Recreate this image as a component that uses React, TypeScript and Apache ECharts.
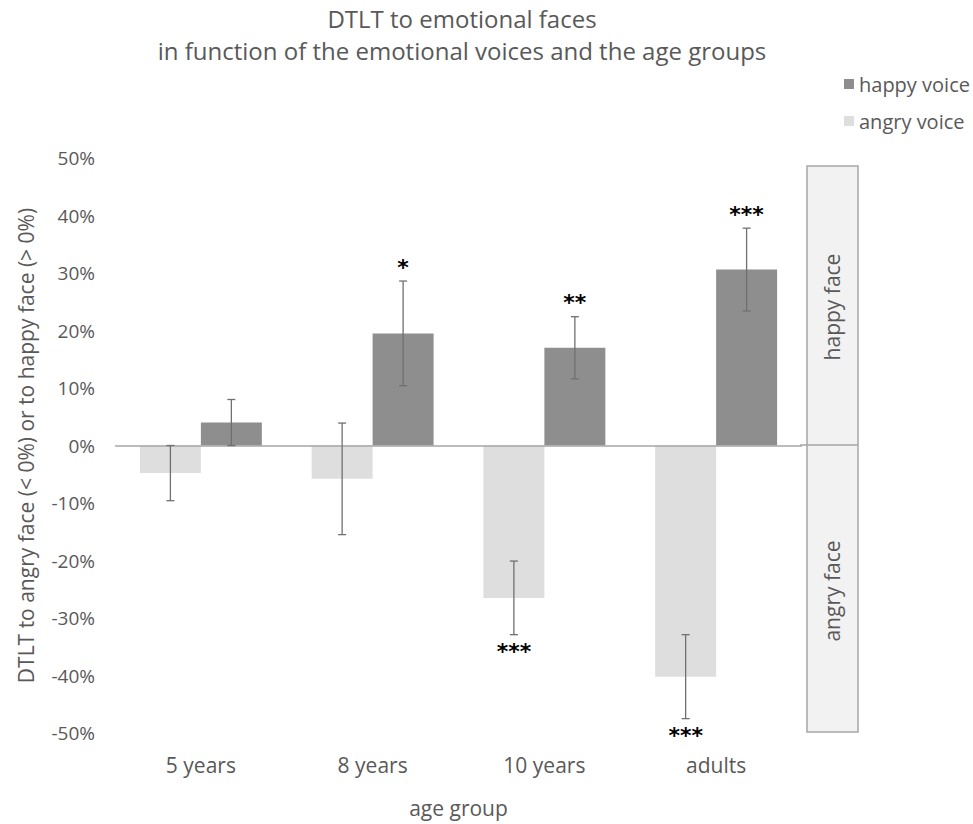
import React, { useEffect, useRef } from "react";
import * as echarts from "echarts";

const categories = ["5 years", "8 years", "10 years", "adults"];
const happyVoice = [4.0, 19.5, 17.0, 30.6];
const happyError = [4.0, 9.1, 5.4, 7.2];
const angryVoice = [-4.8, -5.8, -26.5, -40.2];
const angryError = [4.8, 9.7, 6.4, 7.3];
const happySig = ["", "*", "**", "***"];
const angrySig = ["", "", "***", "***"];
const yMin = -50;
const yMax = 50;
const yInterval = 10;

const FONT = "'Open Sans', sans-serif";
const TEXT = "#595959";
const BAR_RATIO = 0.355;

function errorSeries(name: string, values: number[], errors: number[], sigs: string[], side: number) {
  return {
    type: "custom",
    name,
    silent: true,
    z: 5,
    encode: { x: 0, y: 1 },
    data: values.map((v, i) => [i, v, errors[i]]),
    renderItem: (params: any, api: any) => {
      const i = api.value(0);
      const v = api.value(1);
      const e = api.value(2);
      const catW = api.size([1, 0])[0];
      const bw = catW * BAR_RATIO;
      const cx = api.coord([i, v])[0];
      const x = cx + (side * bw) / 2;
      const yTop = api.coord([i, v + e])[1];
      const yBot = api.coord([i, v - e])[1];
      const cap = 4;
      const style = { stroke: "#707070", lineWidth: 1.3 };
      const children: any[] = [
        { type: "line", shape: { x1: x, y1: yTop, x2: x, y2: yBot }, style },
        { type: "line", shape: { x1: x - cap, y1: yTop, x2: x + cap, y2: yTop }, style },
        { type: "line", shape: { x1: x - cap, y1: yBot, x2: x + cap, y2: yBot }, style },
      ];
      const sig = sigs[params.dataIndex];
      if (sig) {
        const up = v > 0;
        children.push({
          type: "text",
          style: {
            text: sig,
            x,
            y: up ? yTop - 14 : yBot + 17,
            align: "center",
            verticalAlign: "middle",
            fill: "#000",
            font: "bold 22px 'DejaVu Sans', sans-serif",
          },
        });
      }
      return { type: "group", children };
    },
  };
}

export default function App() {
  const ref = useRef<HTMLDivElement>(null);
  useEffect(() => {
    if (!ref.current) return;
    const chart = echarts.init(ref.current, undefined, { renderer: "svg" });
    chart.setOption({
      animation: false,
      backgroundColor: "#fff",
      textStyle: { fontFamily: FONT },
      title: {
        text: "DTLT to emotional faces\nin function of the emotional voices and the age groups",
        left: 457,
        textAlign: "center",
        top: -3,
        textStyle: { fontFamily: FONT, fontSize: 24, fontWeight: "normal", color: TEXT, lineHeight: 32 },
      },
      legend: {
        data: ["happy voice", "angry voice"],
        orient: "vertical",
        left: 839,
        top: 69,
        itemWidth: 10,
        itemHeight: 10,
        itemGap: 17,
        icon: "rect",
        textStyle: { fontFamily: FONT, fontSize: 20, color: TEXT },
      },
      grid: { left: 115, right: 171, top: 158, bottom: 91 },
      xAxis: {
        type: "category",
        data: categories,
        name: "age group",
        nameLocation: "middle",
        nameGap: 64,
        nameTextStyle: { fontFamily: FONT, fontSize: 21, color: TEXT },
        axisLine: { show: false, onZero: false },
        axisTick: { show: false },
        axisLabel: { margin: 21, fontFamily: FONT, fontSize: 21, color: TEXT },
      },
      yAxis: {
        type: "value",
        min: yMin,
        max: yMax,
        interval: yInterval,
        name: "DTLT to angry face (< 0%) or to happy face (> 0%)",
        nameLocation: "middle",
        nameGap: 79,
        nameTextStyle: { fontFamily: FONT, fontSize: 21, color: TEXT },
        axisLine: { show: false },
        axisTick: { show: false },
        splitLine: { show: false },
        axisLabel: { margin: 20, fontFamily: FONT, fontSize: 19, color: TEXT, formatter: "{value}%" },
      },
      series: [
        {
          type: "bar",
          name: "angry voice",
          data: angryVoice,
          barWidth: BAR_RATIO * 100 + "%",
          barGap: "0%",
          itemStyle: { color: "#dedede" },
          markLine: {
            silent: true,
            symbol: "none",
            label: { show: false },
            lineStyle: { color: "#a6a6a6", width: 1.5, type: "solid" },
            data: [{ yAxis: 0 }],
          },
        },
        {
          type: "bar",
          name: "happy voice",
          data: happyVoice,
          barWidth: BAR_RATIO * 100 + "%",
          barGap: "0%",
          itemStyle: { color: "#8e8e8e" },
        },
        errorSeries("angry err", angryVoice, angryError, angrySig, -1),
        errorSeries("happy err", happyVoice, happyError, happySig, 1),
      ],
      graphic: [
        {
          type: "rect",
          shape: { x: 807, y: 166, width: 51, height: 566 },
          style: { fill: "#f2f2f2", stroke: "#a6a6a6", lineWidth: 1.5 },
        },
        {
          type: "line",
          shape: { x1: 800, y1: 445, x2: 858, y2: 445 },
          style: { stroke: "#a6a6a6", lineWidth: 1.5 },
        },
        {
          type: "text",
          x: 832,
          y: 307,
          rotation: Math.PI / 2,
          style: { text: "happy face", align: "center", verticalAlign: "middle", fill: TEXT, font: `21px ${FONT}` },
        },
        {
          type: "text",
          x: 832,
          y: 591,
          rotation: Math.PI / 2,
          style: { text: "angry face", align: "center", verticalAlign: "middle", fill: TEXT, font: `21px ${FONT}` },
        },
      ],
    });
    return () => chart.dispose();
  }, []);
  return <div ref={ref} style={{ width: 973, height: 824, position: "absolute", left: 0, top: 0 }} />;
}
